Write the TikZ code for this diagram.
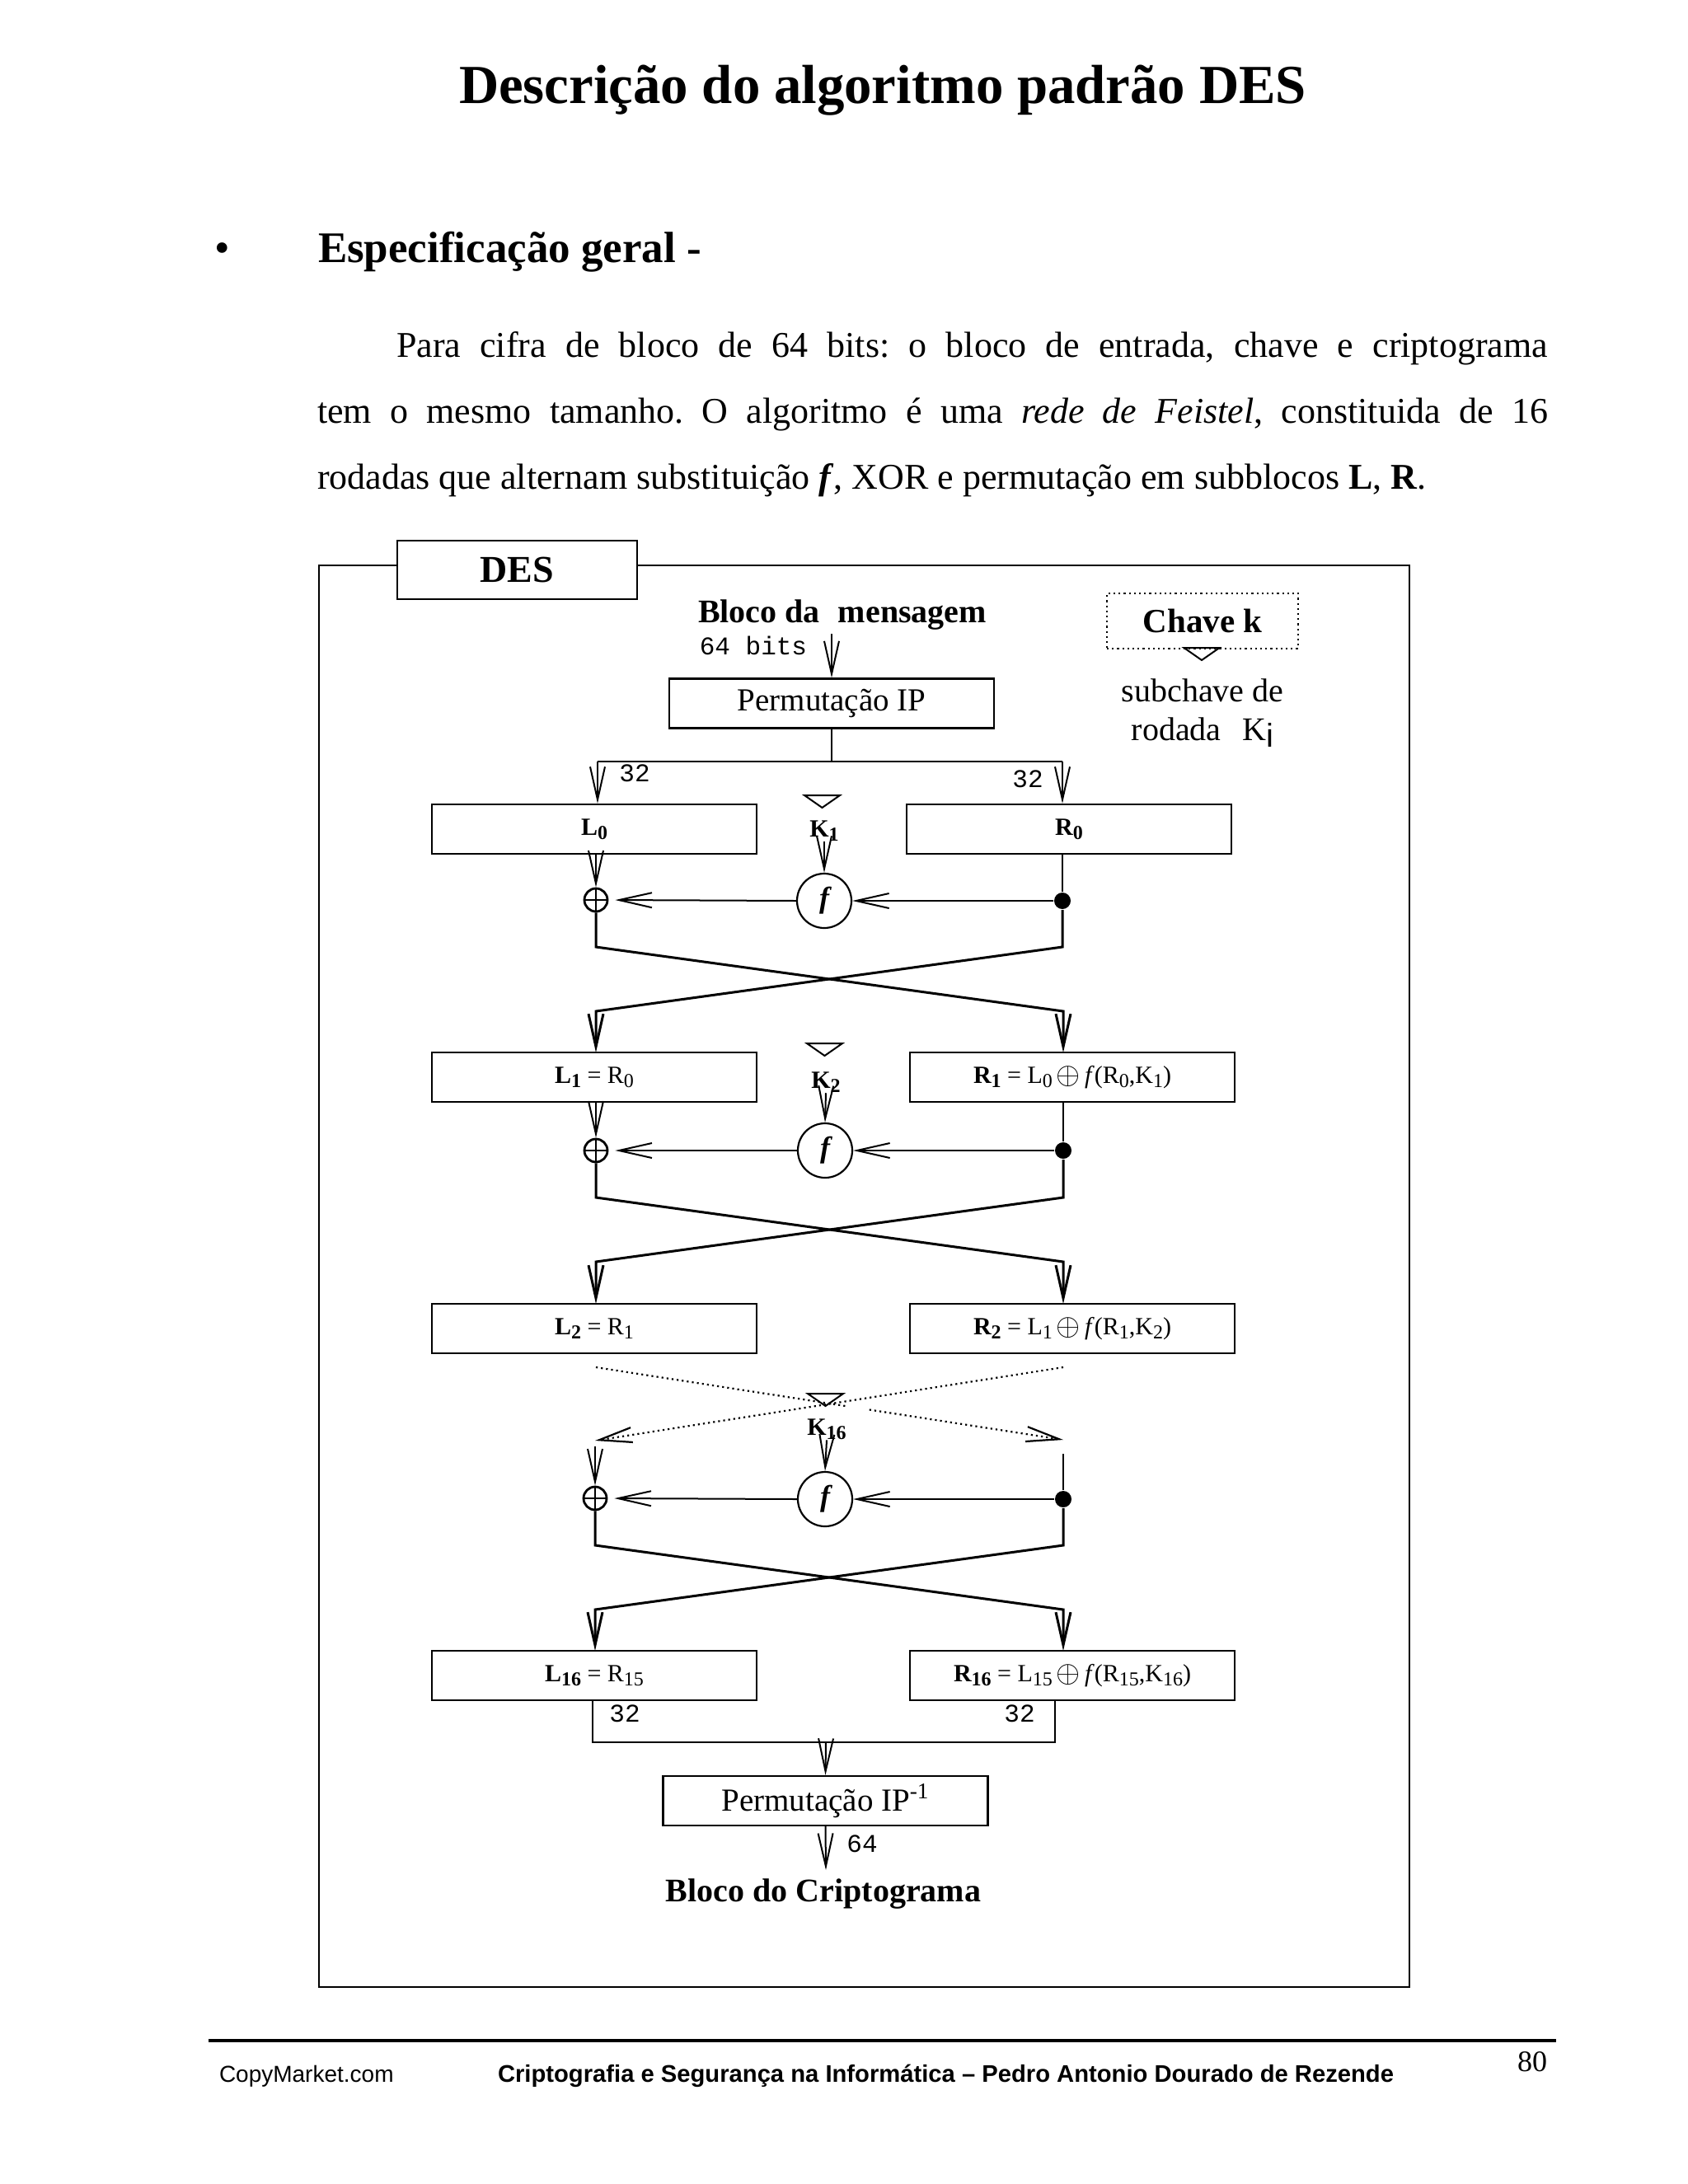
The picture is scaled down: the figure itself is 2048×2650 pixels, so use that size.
\documentclass[tikz,border=0pt]{standalone}
\usepackage{fontspec}
\setmainfont{Liberation Serif}
\setsansfont{Liberation Sans}
\setmonofont{Liberation Mono}
\usepackage{graphicx}
\usetikzlibrary{arrows.meta,calc}
\newcommand\lowsub[1]{\raisebox{-0.35ex}{\scalebox{0.8}{#1}}}
\newcommand\bigxor{\raisebox{-0.1ex}{\scalebox{1.3}{$\oplus$}}}
\newcommand\ktri[2]{\draw[line width=1pt] (#1-21.5,#2) -- (#1+21.5,#2) -- (#1,#2+15) -- cycle;}
\frenchspacing
\begin{document}
\begin{tikzpicture}[x=0.5pt,y=-0.5pt,line width=1pt,
  arr/.style={-{Straight Barb[length=20pt,width=9pt]}},
  box/.style={draw,line width=1.1pt,minimum width=197pt,minimum height=30pt,inner sep=0pt,font=\fontsize{15}{16}\selectfont},
  xor/.style={draw,circle,line width=1.4pt,minimum size=14pt,inner sep=0pt},
  fcirc/.style={draw,circle,line width=1.1pt,minimum size=33pt,inner sep=0pt,font=\fontsize{18}{18}\selectfont\bfseries\itshape},
  dotn/.style={fill,circle,minimum size=10pt,inner sep=0pt},
  xline/.style={line width=1.5pt},
  klbl/.style={inner sep=0pt,font=\fontsize{15}{15}\selectfont\bfseries},
  mono/.style={inner sep=0pt,font=\fontsize{15.5}{16}\selectfont\ttfamily},
  dotline/.style={dotted,line width=1.1pt},
]
\useasboundingbox[fill=white] (0,0) rectangle (2048,2650);

% ---------- page text ----------
\node[anchor=base,inner sep=0pt,font=\fontsize{33.4}{36}\selectfont\bfseries] (title) at (1071,125) {Descrição do algoritmo padrão DES};
\node[anchor=base,inner sep=0pt,font=\fontsize{26.5}{28}\selectfont] (bullet) at (270,318) {•};
\node[anchor=base west,inner sep=0pt,font=\fontsize{26.5}{28}\selectfont\bfseries] (head) at (385,318) {Especificação geral -};
\node[anchor=base west,inner sep=0pt,font=\fontsize{22}{24}\selectfont] (p1) at (480,433) {\makebox[698.5pt][s]{Para cifra de bloco de 64 bits: o bloco de entrada, chave e criptograma}};
\node[anchor=base west,inner sep=0pt,font=\fontsize{22}{24}\selectfont] (p2) at (384,513) {\makebox[746.5pt][s]{tem o mesmo tamanho. O algoritmo é uma \textit{rede de Feistel}, constituida de 16}};
\node[anchor=base west,inner sep=0pt,font=\fontsize{22}{24}\selectfont] (p3) at (384,593) {rodadas que alternam substituição \textbf{\textit{f}}, XOR e permutação em subblocos \textbf{L}, \textbf{R}.};

% ---------- frame ----------
\draw[line width=1pt] (387,686) rectangle (1710,2411);
\node[draw,fill=white,line width=1pt,minimum width=145.5pt,minimum height=35.5pt,inner sep=0pt,font=\fontsize{23}{24}\selectfont\bfseries] (des) at (627.5,691.5) {DES};

% ---------- top ----------
\node[anchor=base,inner sep=0pt,font=\fontsize{20}{22}\selectfont\bfseries] (msg) at (1022,755) {Bloco da\hspace{0.3em} mensagem};
\node[mono,anchor=base] (b64) at (914,794) {64 bits};
\coordinate (inA) at (1009,769);
\node[box,font=\fontsize{19.5}{20}\selectfont] (ip) at (1009,853.5) {Permutação IP};
\draw[arr] (inA) -- (ip.north);

\node[draw,dotted,line width=1.1pt,minimum width=116pt,minimum height=33.5pt,inner sep=0pt,font=\fontsize{20.5}{22}\selectfont\bfseries] (chave) at (1459,753.5) {Chave k};
\ktri{1458}{786}
\node[anchor=base,inner sep=0pt,font=\fontsize{20}{22}\selectfont] (sub1) at (1459,851) {subchave de};
\node[anchor=base,inner sep=0pt,font=\fontsize{20}{22}\selectfont] (sub2) at (1459,898) {rodada\hspace{0.4em} K\raisebox{-0.45ex}{\sffamily i}};

\coordinate (split) at (1009,924);
\coordinate (spL) at (725,924);
\coordinate (spR) at (1289,924);
\draw (ip.south) -- (split);
\draw (spL) -- (spR);
\node[mono] (n32a) at (770,938) {32};
\node[mono] (n32b) at (1247,945) {32};

% ---------- round 1 ----------
\node[box] (L0) at (721,1006) {\textbf{L\lowsub{0}}};
\node[box] (R0) at (1297,1006) {\textbf{R\lowsub{0}}};
\draw[arr] (spL) -- (spL |- L0.north);
\draw[arr] (spR) -- (spR |- R0.north);
\ktri{997.5}{965}
\node[klbl] (K1) at (1000,1008) {K\lowsub{1}};
\node[fcirc] (f0) at (1000,1093) {f};
\node[xor] (x0) at (723,1092) {};
\draw[line width=1.4pt] (x0.north) -- (x0.south) (x0.west) -- (x0.east);
\node[dotn] (d0) at (1289,1093) {};
\draw[arr] (L0.south -| x0) -- (x0.north);
\draw[arr] (K1.south) -- (f0.north);
\draw (R0.south -| d0) -- (d0);
\draw[arr] (d0) -- (f0.east);
\draw[arr,shorten >=4pt] (f0.west) -- (x0.east);
\node[box] (L1) at (721,1307) {\textbf{L\lowsub{1}} = R\lowsub{0}};
\node[box] (R1) at (1301,1307) {\textbf{R\lowsub{1}} = L\lowsub{0}\,\bigxor\,\textit{f}(R\lowsub{0},K\lowsub{1})};
\draw[xline,arr] (x0.south) -- (723,1149) -- (1290,1227) -- (1290,1277);
\draw[xline,arr] (d0) -- (1289,1149) -- (723,1227) -- (723,1277);

% ---------- round 2 ----------
\ktri{1000.5}{1266}
\node[klbl] (K2) at (1002,1313) {K\lowsub{2}};
\node[fcirc] (f1) at (1001,1396) {f};
\node[xor] (x1) at (723,1396) {};
\draw[line width=1.4pt] (x1.north) -- (x1.south) (x1.west) -- (x1.east);
\node[dotn] (d1) at (1290,1396) {};
\draw[arr] (L1.south -| x1) -- (x1.north);
\draw[arr] (K2.south) -- (f1.north);
\draw (R1.south -| d1) -- (d1);
\draw[arr] (d1) -- (f1.east);
\draw[arr,shorten >=4pt] (f1.west) -- (x1.east);
\node[box] (L2) at (721,1612) {\textbf{L\lowsub{2}} = R\lowsub{1}};
\node[box] (R2) at (1301,1612) {\textbf{R\lowsub{2}} = L\lowsub{1}\,\bigxor\,\textit{f}(R\lowsub{1},K\lowsub{2})};
\draw[xline,arr] (x1.south) -- (723,1453) -- (1290,1531) -- (1290,1582);
\draw[xline,arr] (d1) -- (1290,1453) -- (723,1531) -- (723,1582);

% ---------- dotted rounds ----------
\coordinate (dA) at (723,1659);
\coordinate (dB) at (1290,1747);
\coordinate (dC) at (1290,1659);
\coordinate (dD) at (722,1748);
\draw[dotline] (dA) -- ($(dA)!0.54!(dB)$);
\draw[dotline,arr] ($(dA)!0.585!(dB)$) -- (dB);
\draw[dotline,arr] (dC) -- (dD);
\ktri{1001.5}{1691}
\node[klbl] (K16) at (1003,1734) {K\lowsub{16}};

% ---------- round 16 ----------
\node[fcirc] (f16) at (1001,1819) {f};
\node[xor] (x16) at (722,1818) {};
\draw[line width=1.4pt] (x16.north) -- (x16.south) (x16.west) -- (x16.east);
\node[dotn] (d16) at (1290,1819) {};
\coordinate (lv) at (722,1755);
\coordinate (rv) at (1290,1764);
\draw[arr] (lv) -- (x16.north);
\draw[arr] (K16.south) -- (f16.north);
\draw (rv) -- (d16);
\draw[arr] (d16) -- (f16.east);
\draw[arr,shorten >=4pt] (f16.west) -- (x16.east);
\node[box] (L16) at (721,2033) {\textbf{L\lowsub{16}} = R\lowsub{15}};
\node[box] (R16) at (1301,2033) {\textbf{R\lowsub{16}} = L\lowsub{15}\,\bigxor\,\textit{f}(R\lowsub{15},K\lowsub{16})};
\draw[xline,arr] (x16.south) -- (722,1875) -- (1290,1953) -- (1290,2003);
\draw[xline,arr] (d16) -- (1290,1875) -- (722,1953) -- (722,2003);

% ---------- output ----------
\coordinate (jL) at (719,2114);
\coordinate (jR) at (1280,2114);
\coordinate (jM) at (1002,2114);
\draw[line width=1.1pt] (L16.south -| jL) -- (jL) -- (jR) -- (R16.south -| jR);
\node[mono] (n32c) at (758,2079) {32};
\node[mono] (n32d) at (1237,2079) {32};
\node[box,font=\fontsize{19.5}{20}\selectfont] (ipinv) at (1001.5,2185) {Permutação IP\textsuperscript{-1}};
\draw[arr] (jM) -- (ipinv.north);
\coordinate (outE) at (1002,2269);
\draw[arr] (ipinv.south) -- (outE);
\node[mono] (n64) at (1046,2237) {64};
\node[anchor=base,inner sep=0pt,font=\fontsize{20}{22}\selectfont\bfseries] (cript) at (999,2307) {Bloco do Criptograma};

% ---------- footer ----------
\draw[line width=2pt] (253,2476) -- (1888,2476);
\node[anchor=base,inner sep=0pt,font=\fontsize{18}{20}\selectfont] (pg) at (1859,2513) {80};
\node[anchor=base west,inner sep=0pt,font=\fontsize{14}{16}\selectfont\sffamily] (cm) at (265,2526) {CopyMarket.com};
\node[anchor=base west,inner sep=0pt,font=\fontsize{14.6}{16}\selectfont\sffamily\bfseries] (foot) at (603,2526) {Criptografia e Segurança na Informática – Pedro Antonio Dourado de Rezende};
\end{tikzpicture}
\end{document}
